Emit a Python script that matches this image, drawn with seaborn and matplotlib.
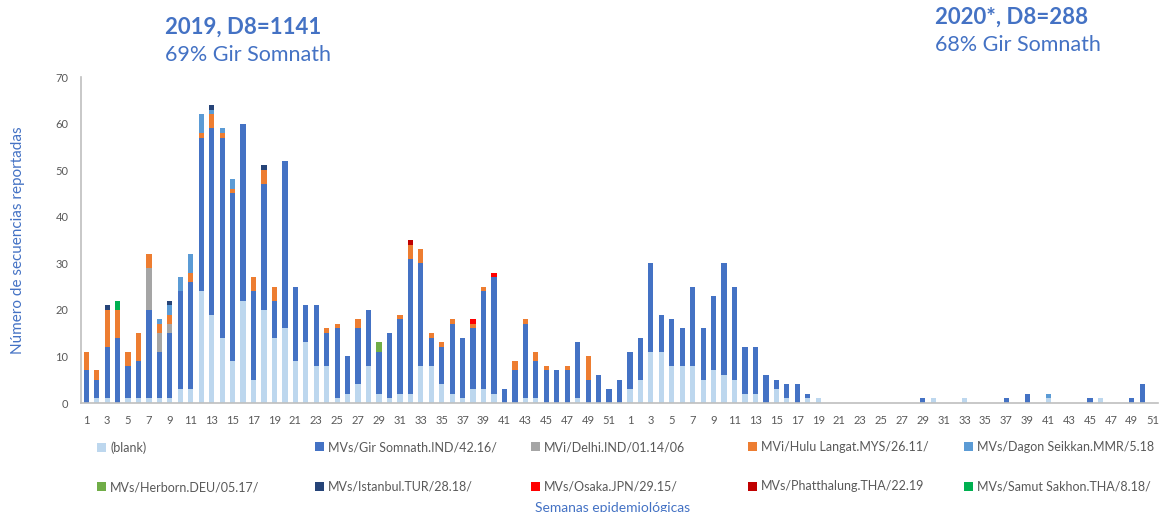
import matplotlib
matplotlib.use('Agg')
import matplotlib.pyplot as plt
import seaborn as sns

# epidemiological weeks: 2019 has 52, 2020 shown up to 51
weeks_2019 = list(range(1, 53))
weeks_2020 = list(range(1, 52))

# counts per week, 2019
blank_2019 = [0, 1, 1, 0, 1, 1, 1, 1, 1, 3, 3, 24, 19, 14, 9, 22, 5, 20, 14, 16,
              9, 13, 8, 8, 1, 2, 4, 8, 2, 1, 2, 2, 8, 8, 4, 2, 1, 3, 3, 2,
              0, 0, 1, 1, 0, 0, 0, 1, 0, 0, 0, 0]
gir_2019 = [7, 4, 11, 14, 7, 8, 19, 10, 14, 21, 23, 33, 40, 43, 36, 38, 19, 27, 8, 36,
            16, 8, 13, 7, 15, 8, 12, 12, 9, 14, 16, 29, 22, 6, 8, 15, 13, 13, 21, 25,
            3, 7, 16, 8, 7, 7, 7, 12, 5, 6, 3, 5]
delhi_2019 = [0, 0, 0, 0, 0, 0, 9, 4, 2, 0, 0, 0, 0, 0, 0, 0, 0, 0, 0, 0,
              0, 0, 0, 0, 0, 0, 0, 0, 0, 0, 0, 0, 0, 0, 0, 0, 0, 0, 0, 0,
              0, 0, 0, 0, 0, 0, 0, 0, 0, 0, 0, 0]
hulu_2019 = [4, 2, 8, 6, 3, 6, 3, 2, 2, 0, 2, 1, 3, 1, 1, 0, 3, 3, 3, 0,
             0, 0, 0, 1, 1, 0, 2, 0, 0, 0, 1, 3, 3, 1, 1, 1, 0, 1, 1, 0,
             0, 2, 1, 2, 1, 0, 1, 0, 5, 0, 0, 0]
dagon_2019 = [0, 0, 0, 0, 0, 0, 0, 1, 2, 3, 4, 4, 1, 1, 2, 0, 0, 0, 0, 0,
              0, 0, 0, 0, 0, 0, 0, 0, 0, 0, 0, 0, 0, 0, 0, 0, 0, 0, 0, 0,
              0, 0, 0, 0, 0, 0, 0, 0, 0, 0, 0, 0]
herborn_2019 = [0, 0, 0, 0, 0, 0, 0, 0, 0, 0, 0, 0, 0, 0, 0, 0, 0, 0, 0, 0,
                0, 0, 0, 0, 0, 0, 0, 0, 2, 0, 0, 0, 0, 0, 0, 0, 0, 0, 0, 0,
                0, 0, 0, 0, 0, 0, 0, 0, 0, 0, 0, 0]
istanbul_2019 = [0, 0, 1, 0, 0, 0, 0, 0, 1, 0, 0, 0, 1, 0, 0, 0, 0, 1, 0, 0,
                 0, 0, 0, 0, 0, 0, 0, 0, 0, 0, 0, 0, 0, 0, 0, 0, 0, 0, 0, 0,
                 0, 0, 0, 0, 0, 0, 0, 0, 0, 0, 0, 0]
osaka_2019 = [0, 0, 0, 0, 0, 0, 0, 0, 0, 0, 0, 0, 0, 0, 0, 0, 0, 0, 0, 0,
              0, 0, 0, 0, 0, 0, 0, 0, 0, 0, 0, 0, 0, 0, 0, 0, 0, 1, 0, 1,
              0, 0, 0, 0, 0, 0, 0, 0, 0, 0, 0, 0]
phatthalung_2019 = [0, 0, 0, 0, 0, 0, 0, 0, 0, 0, 0, 0, 0, 0, 0, 0, 0, 0, 0, 0,
                    0, 0, 0, 0, 0, 0, 0, 0, 0, 0, 0, 1, 0, 0, 0, 0, 0, 0, 0, 0,
                    0, 0, 0, 0, 0, 0, 0, 0, 0, 0, 0, 0]
samut_2019 = [0, 0, 0, 2, 0, 0, 0, 0, 0, 0, 0, 0, 0, 0, 0, 0, 0, 0, 0, 0,
              0, 0, 0, 0, 0, 0, 0, 0, 0, 0, 0, 0, 0, 0, 0, 0, 0, 0, 0, 0,
              0, 0, 0, 0, 0, 0, 0, 0, 0, 0, 0, 0]

# counts per week, 2020
blank_2020 = [3, 5, 11, 11, 8, 8, 8, 5, 7, 6, 5, 2, 2, 0, 3, 1, 0, 1, 1, 0,
              0, 0, 0, 0, 0, 0, 0, 0, 0, 1, 0, 0, 1, 0, 0, 0, 0, 0, 0, 0,
              1, 0, 0, 0, 0, 1, 0, 0, 0, 0, 0]
gir_2020 = [8, 9, 19, 8, 10, 8, 17, 11, 16, 24, 20, 10, 10, 6, 2, 3, 4, 1, 0, 0,
            0, 0, 0, 0, 0, 0, 0, 0, 1, 0, 0, 0, 0, 0, 0, 0, 1, 0, 2, 0,
            0, 0, 0, 0, 1, 0, 0, 0, 1, 4, 0]
dagon_2020 = [0, 0, 0, 0, 0, 0, 0, 0, 0, 0, 0, 0, 0, 0, 0, 0, 0, 0, 0, 0,
              0, 0, 0, 0, 0, 0, 0, 0, 0, 0, 0, 0, 0, 0, 0, 0, 0, 0, 0, 0,
              1, 0, 0, 0, 0, 0, 0, 0, 0, 0, 0]
none_2020 = [0] * len(weeks_2020)

series_names = ['(blank)', 'MVs/Gir Somnath.IND/42.16/', 'MVi/Delhi.IND/01.14/06',
                'MVi/Hulu Langat.MYS/26.11/', 'MVs/Dagon Seikkan.MMR/5.18',
                'MVs/Herborn.DEU/05.17/', 'MVs/Istanbul.TUR/28.18/', 'MVs/Osaka.JPN/29.15/',
                'MVs/Phatthalung.THA/22.19', 'MVs/Samut Sakhon.THA/8.18/']
series_colors = ['#BDD7EE', '#4472C4', '#A5A5A5', '#ED7D31', '#5B9BD5',
                 '#70AD47', '#264478', '#FF0000', '#C00000', '#00B050']
series_values = [blank_2019 + blank_2020, gir_2019 + gir_2020, delhi_2019 + none_2020,
                 hulu_2019 + none_2020, dagon_2019 + dagon_2020, herborn_2019 + none_2020,
                 istanbul_2019 + none_2020, osaka_2019 + none_2020,
                 phatthalung_2019 + none_2020, samut_2019 + none_2020]

blue = '#4472C4'
grey = '#595959'

sns.set_style('white')
plt.rcParams['font.family'] = ['Lato', 'DejaVu Sans']

fig = plt.figure(figsize=(11.62, 5.12), dpi=100)
ax = fig.add_axes([81 / 1162, 1 - 403 / 512, (1158 - 81) / 1162, (403 - 77) / 512])

week_labels = weeks_2019 + weeks_2020
positions = list(range(len(week_labels)))
bottom = [0] * len(positions)
for name, color, values in zip(series_names, series_colors, series_values):
    sns.barplot(x=positions, y=values, bottom=bottom, color=color, width=0.5,
                errorbar=None, saturation=1, linewidth=0, label=name, ax=ax)
    bottom = [b + v for b, v in zip(bottom, values)]

ax.set_xlim(-0.5, len(positions) - 0.5)
ax.set_ylim(0, 70)
ax.set_yticks(range(0, 71, 10))
ax.set_xticks(positions[::2])
ax.set_xticklabels([str(w) for w in week_labels][::2])
ax.set_xticks([p - 0.5 for p in positions] + [len(positions) - 0.5], minor=True)
ax.tick_params(axis='x', which='major', length=0, pad=9, labelsize=8, labelcolor=grey)
ax.tick_params(axis='x', which='minor', length=4, width=1, color='#BFBFBF')
ax.tick_params(axis='y', length=0, pad=9, labelsize=8, labelcolor=grey)
ax.set_xlabel('')
ax.set_ylabel('')
for side in ['top', 'right']:
    ax.spines[side].set_visible(False)
for side in ['left', 'bottom']:
    ax.spines[side].set_color('#BFBFBF')
    ax.spines[side].set_linewidth(1.2)

# legend: five columns of two entries each, below the axis
handles, labels = ax.get_legend_handles_labels()
if ax.get_legend() is not None:
    ax.get_legend().remove()
col_x = [97, 315, 531, 748, 964]
for i, x in enumerate(col_x):
    fig.legend([handles[i], handles[i + 5]], [labels[i], labels[i + 5]],
               loc='upper left', bbox_to_anchor=(x / 1162, 1 - 441 / 512),
               frameon=False, fontsize=9, labelcolor=grey, handlelength=0.75,
               handleheight=0.75, handletextpad=0.3, labelspacing=2.2, borderpad=0,
               borderaxespad=0)

fig.text(165 / 1162, 1 - 27 / 512, '2019, D8=1141', color=blue, fontsize=16,
         fontweight='bold', va='center')
fig.text(165 / 1162, 1 - 55 / 512, '69% Gir Somnath', color=blue, fontsize=15.5, va='center')
fig.text(935 / 1162, 1 - 17 / 512, '2020*, D8=288', color=blue, fontsize=16,
         fontweight='bold', va='center')
fig.text(935 / 1162, 1 - 45 / 512, '68% Gir Somnath', color=blue, fontsize=15.5, va='center')
fig.text(18 / 1162, 1 - 240 / 512, 'Número de secuencias reportadas', color=blue,
         fontsize=11, rotation=90, ha='center', va='center')
fig.text(613 / 1162, 1 - 508 / 512, 'Semanas epidemiológicas', color=blue,
         fontsize=10, ha='center', va='center')

fig.savefig('out.png', dpi=100)
